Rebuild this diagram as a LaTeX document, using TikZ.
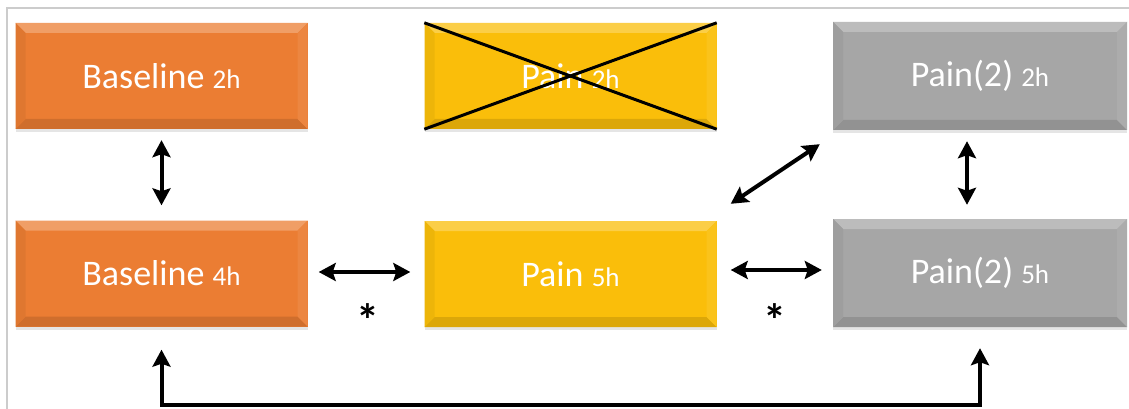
\documentclass[tikz,border=0pt]{standalone}
\usepackage{fontspec}
\setmainfont{Carlito}
\usetikzlibrary{arrows.meta,shadows,calc}

\definecolor{boxorange}{HTML}{EB7D33}
\definecolor{boxyellow}{HTML}{FABE0A}
\definecolor{boxgray}{HTML}{A6A6A6}
\definecolor{framegray}{HTML}{CCCCCC}

\newcommand{\bigtxt}{\fontsize{36}{40}\selectfont}
\newcommand{\smalltxt}{\fontsize{27}{30}\selectfont}

\tikzset{
  bevel/.style={path picture={
    \def\bb{path picture bounding box}
    % top face
    \fill[#1!75!white]
      (\bb.north west) -- (\bb.north east)
      -- ([xshift=-10pt,yshift=-10pt]\bb.north east)
      -- ([xshift=10pt,yshift=-10pt]\bb.north west) -- cycle;
    % bottom face
    \fill[#1!88!black]
      (\bb.south west) -- (\bb.south east)
      -- ([xshift=-10pt,yshift=10pt]\bb.south east)
      -- ([xshift=10pt,yshift=10pt]\bb.south west) -- cycle;
    % left face
    \fill[#1!95!black]
      (\bb.north west) -- ([xshift=10pt,yshift=-10pt]\bb.north west)
      -- ([xshift=10pt,yshift=10pt]\bb.south west)
      -- (\bb.south west) -- cycle;
    % right face
    \fill[#1!93!white]
      (\bb.north east) -- ([xshift=-10pt,yshift=-10pt]\bb.north east)
      -- ([xshift=-10pt,yshift=10pt]\bb.south east)
      -- (\bb.south east) -- cycle;
  }},
  stagebox/.style={
    rectangle, fill=#1, bevel=#1,
    minimum width=292pt, minimum height=106pt,
    inner sep=0pt, text=white,
    drop shadow={shadow xshift=0pt, shadow yshift=-3pt, opacity=0.2}
  },
  arr/.style={line width=4pt, {Stealth[length=17pt,width=18pt,inset=3pt]}-{Stealth[length=17pt,width=18pt,inset=3pt]}},
  cross/.style={line width=3pt, black},
  star/.style={font=\fontsize{46}{46}\selectfont\bfseries, inner sep=0pt}
}

\begin{document}
\begin{tikzpicture}[x=1pt,y=-1pt]
  \useasboundingbox (0,0) rectangle (1129,409);
  \fill[white] (0,0) rectangle (1129,409);

  % outer frame, top and left edges
  \draw[framegray, line width=1.5pt] (7,409) -- (7,8) -- (1129,8);

  % stage boxes
  \node[stagebox=boxorange] (b2) at (161.5,76)
    {\bigtxt Baseline \smalltxt 2h};
  \node[stagebox=boxyellow] (p2) at (570.5,76)
    {\bigtxt Pain \smalltxt 2h};
  \node[stagebox=boxgray, minimum width=294pt, minimum height=108pt] (q2) at (980,76)
    {\bigtxt Pain(2) \smalltxt 2h};
  \node[stagebox=boxorange] (b4) at (161.5,273.5)
    {\bigtxt Baseline \smalltxt 4h};
  \node[stagebox=boxyellow] (p5) at (570.5,274)
    {\bigtxt Pain \smalltxt 5h};
  \node[stagebox=boxgray, minimum width=294pt, minimum height=108pt] (q5) at (980,273)
    {\bigtxt Pain(2) \smalltxt 5h};

  % crossed-out stage
  \draw[cross] (p2.north west) -- (p2.south east);
  \draw[cross] (p2.south west) -- (p2.north east);

  % connectors
  \draw[arr] ([yshift=-11pt]b2.south) -- ([yshift=15pt]b4.north);
  \draw[arr] ([xshift=-13pt,yshift=-11pt]q2.south) -- ([xshift=-13pt,yshift=14pt]q5.north);
  \draw[arr] ([xshift=11pt,yshift=1.5pt]b4.east) -- ([xshift=-14pt,yshift=2pt]p5.west);
  \draw[arr] ([xshift=14pt,yshift=4pt]p5.east) -- ([xshift=-11pt,yshift=3pt]q5.west);
  \draw[arr] ([xshift=14pt,yshift=17pt]p5.north east) -- ([xshift=-13pt,yshift=-14pt]q2.south west);
  \draw[arr] ([yshift=-23pt]b4.south) -- ++(0,55) -| ([yshift=-21pt]q5.south);

  % significance marks
  \node[star] (s1) at (368,320) {*};
  \node[star] (s2) at (775,320) {*};
\end{tikzpicture}
\end{document}
